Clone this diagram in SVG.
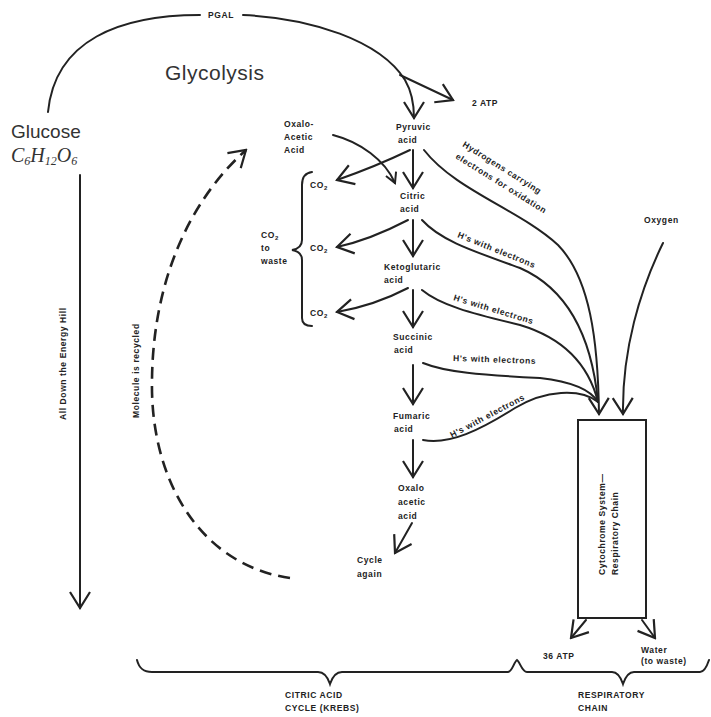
<svg xmlns="http://www.w3.org/2000/svg" width="711" height="717" viewBox="0 0 711 717">
<style>
.t{font-family:"Liberation Sans",Arial,sans-serif;font-weight:bold;font-size:8.5px;fill:#222;letter-spacing:0.6px}
.c{fill:none;stroke:#222;stroke-width:2;stroke-linecap:round}
.d{fill:none;stroke:#222;stroke-width:2.6;stroke-dasharray:12 7}
</style>
<defs>
<marker id="v" viewBox="0 0 14 14" refX="12" refY="7" markerWidth="14" markerHeight="14" markerUnits="userSpaceOnUse" orient="auto">
<path d="M2,1.5 L12,7 L2,12.5" fill="none" stroke="#222" stroke-width="2"/>
</marker>
<marker id="vb" viewBox="0 0 20 24" refX="18" refY="12" markerWidth="20" markerHeight="24" markerUnits="userSpaceOnUse" orient="auto">
<path d="M2,2 L18,12 L2,22" fill="none" stroke="#222" stroke-width="2.2"/>
</marker>
</defs>
<rect width="711" height="717" fill="#fff"/>
<g id="connectors">
<path class="c" d="M48 112 C55 40 120 15 200 15"/>
<path class="c" d="M243 15 C310 18 380 40 405 80 C412 92 414 105 414 118" marker-end="url(#vb)"/>
<path class="c" d="M400 75 L453 100" marker-end="url(#vb)"/>
<path class="c" d="M80 175 L80 608" marker-end="url(#vb)"/>
<path class="d" d="M290 578 C200 565 150 480 152 380 C153 280 190 200 246 150" marker-end="url(#vb)"/>
<path class="c" d="M333 135 C360 142 385 160 395 183" marker-end="url(#v)"/>
<path class="c" d="M413 150 L413 188" marker-end="url(#vb)"/>
<path class="c" d="M413 220 L413 256" marker-end="url(#vb)"/>
<path class="c" d="M413 290 L413 327" marker-end="url(#vb)"/>
<path class="c" d="M413 365 L413 404" marker-end="url(#vb)"/>
<path class="c" d="M413 440 L413 477" marker-end="url(#vb)"/>
<path class="c" d="M412 523 L395 553" marker-end="url(#vb)"/>
<path class="c" d="M410 150 C385 162 360 172 337 180" marker-end="url(#vb)"/>
<path class="c" d="M408 220 C385 232 360 242 337 247" marker-end="url(#vb)"/>
<path class="c" d="M408 288 C385 300 360 308 337 312" marker-end="url(#vb)"/>
<path class="c" d="M312 172 C304 173 302 178 302 185 L302 240 C302 246 298 249 292 250 C298 251 302 254 302 260 L302 318 C302 323 305 326 312 326"/>
<path class="c" d="M424 150 C455 190 520 210 558 245 C590 278 598 340 599 414" marker-end="url(#vb)"/>
<path class="c" d="M422 220 C440 240 470 250 520 268 C570 290 592 340 598 402"/>
<path class="c" d="M422 290 C440 305 470 313 520 325 C570 340 590 370 598 402"/>
<path class="c" d="M423 363 C445 372 480 375 540 378 C575 382 592 392 598 402"/>
<path class="c" d="M423 440 C450 445 480 430 515 408 C545 390 580 388 598 402"/>
<path class="c" d="M663 243 C640 290 622 350 623 414" marker-end="url(#vb)"/>
<path class="c" d="M586 620 L571 638" marker-end="url(#vb)"/>
<path class="c" d="M642 620 L655 638" marker-end="url(#vb)"/>
<path class="c" d="M137 660 C139 668 143 672 152 672 L318 672 C325 672 328 678 330 684 C332 678 335 672 342 672 L508 672 C512 672 514 662 517 660 C520 662 522 672 527 672 L612 672 C618 672 621 678 623 684 C625 678 628 672 634 672 L700 672 C704 672 707 666 709 660"/>
</g>
<g id="pgal"><text class="t" x="208" y="18">PGAL</text></g>
<g id="glycolysis"><text x="165" y="80" font-family="Liberation Sans, Arial, sans-serif" font-size="21" letter-spacing="0.5" fill="#333">Glycolysis</text></g>
<g id="atp2"><text class="t" x="472" y="106">2 ATP</text></g>
<g id="glucose">
<text x="11" y="138" font-family="Liberation Sans, Arial, sans-serif" font-size="19" fill="#333">Glucose</text>
<text x="11" y="162" font-family="Liberation Serif, serif" font-style="italic" font-size="20" fill="#333">C<tspan font-size="12" dy="3">6</tspan><tspan dy="-3">H</tspan><tspan font-size="12" dy="3">12</tspan><tspan dy="-3">O</tspan><tspan font-size="12" dy="3">6</tspan></text>
</g>
<g id="energy-hill"><text class="t" transform="translate(66,420) rotate(-90)" font-size="8">All Down the Energy Hill</text></g>
<g id="recycled"><text class="t" transform="translate(139,418) rotate(-90)" font-size="8">Molecule is recycled</text></g>
<g id="oxalo-top">
<text class="t" x="284" y="127">Oxalo-</text>
<text class="t" x="284" y="140">Acetic</text>
<text class="t" x="284" y="153">Acid</text>
</g>
<g id="pyruvic"><text class="t" x="396" y="130">Pyruvic</text><text class="t" x="398" y="143">acid</text></g>
<g id="citric"><text class="t" x="400" y="199">Citric</text><text class="t" x="400" y="212">acid</text></g>
<g id="keto"><text class="t" x="384" y="270">Ketoglutaric</text><text class="t" x="384" y="283">acid</text></g>
<g id="succinic"><text class="t" x="393" y="340">Succinic</text><text class="t" x="394" y="353">acid</text></g>
<g id="fumaric"><text class="t" x="393" y="419">Fumaric</text><text class="t" x="394" y="432">acid</text></g>
<g id="oxalo"><text class="t" x="398" y="491">Oxalo</text><text class="t" x="398" y="505">acetic</text><text class="t" x="398" y="519">acid</text></g>
<g id="cycle-again"><text class="t" x="357" y="563">Cycle</text><text class="t" x="357" y="577">again</text></g>
<g id="co2">
<text class="t" x="310" y="188">CO<tspan font-size="6" dy="2">2</tspan></text>
<text class="t" x="310" y="251">CO<tspan font-size="6" dy="2">2</tspan></text>
<text class="t" x="310" y="316">CO<tspan font-size="6" dy="2">2</tspan></text>
</g>
<g id="co2-waste">
<text class="t" x="261" y="238">CO<tspan font-size="6" dy="2">2</tspan></text>
<text class="t" x="261" y="251">to</text>
<text class="t" x="261" y="264">waste</text>
</g>
<g id="h-labels">
<text class="t" transform="translate(462,146) rotate(32)">Hydrogens carrying</text>
<text class="t" transform="translate(455,158) rotate(32)">electrons for oxidation</text>
<text class="t" transform="translate(457,237) rotate(22)">H's with electrons</text>
<text class="t" transform="translate(453,300) rotate(17)">H's with electrons</text>
<text class="t" transform="translate(453,361) rotate(2)">H's with electrons</text>
<text class="t" transform="translate(452,438) rotate(-28)">H's with electrons</text>
</g>
<g id="oxygen"><text class="t" x="644" y="223">Oxygen</text></g>
<g id="cytochrome">
<rect x="578" y="420" width="68" height="198" fill="none" stroke="#222" stroke-width="2"/>
<text class="t" font-size="8" transform="translate(605,575) rotate(-90)">Cytochrome System—</text>
<text class="t" font-size="8" transform="translate(618,575) rotate(-90)">Respiratory Chain</text>
</g>
<g id="atp36"><text class="t" x="543" y="659">36 ATP</text></g>
<g id="water"><text class="t" x="641" y="653">Water</text><text class="t" x="641" y="664">(to waste)</text></g>
<g id="krebs"><text class="t" x="285" y="698">CITRIC ACID</text><text class="t" x="285" y="711">CYCLE (KREBS)</text></g>
<g id="resp"><text class="t" x="578" y="698">RESPIRATORY</text><text class="t" x="578" y="711">CHAIN</text></g>
</svg>
